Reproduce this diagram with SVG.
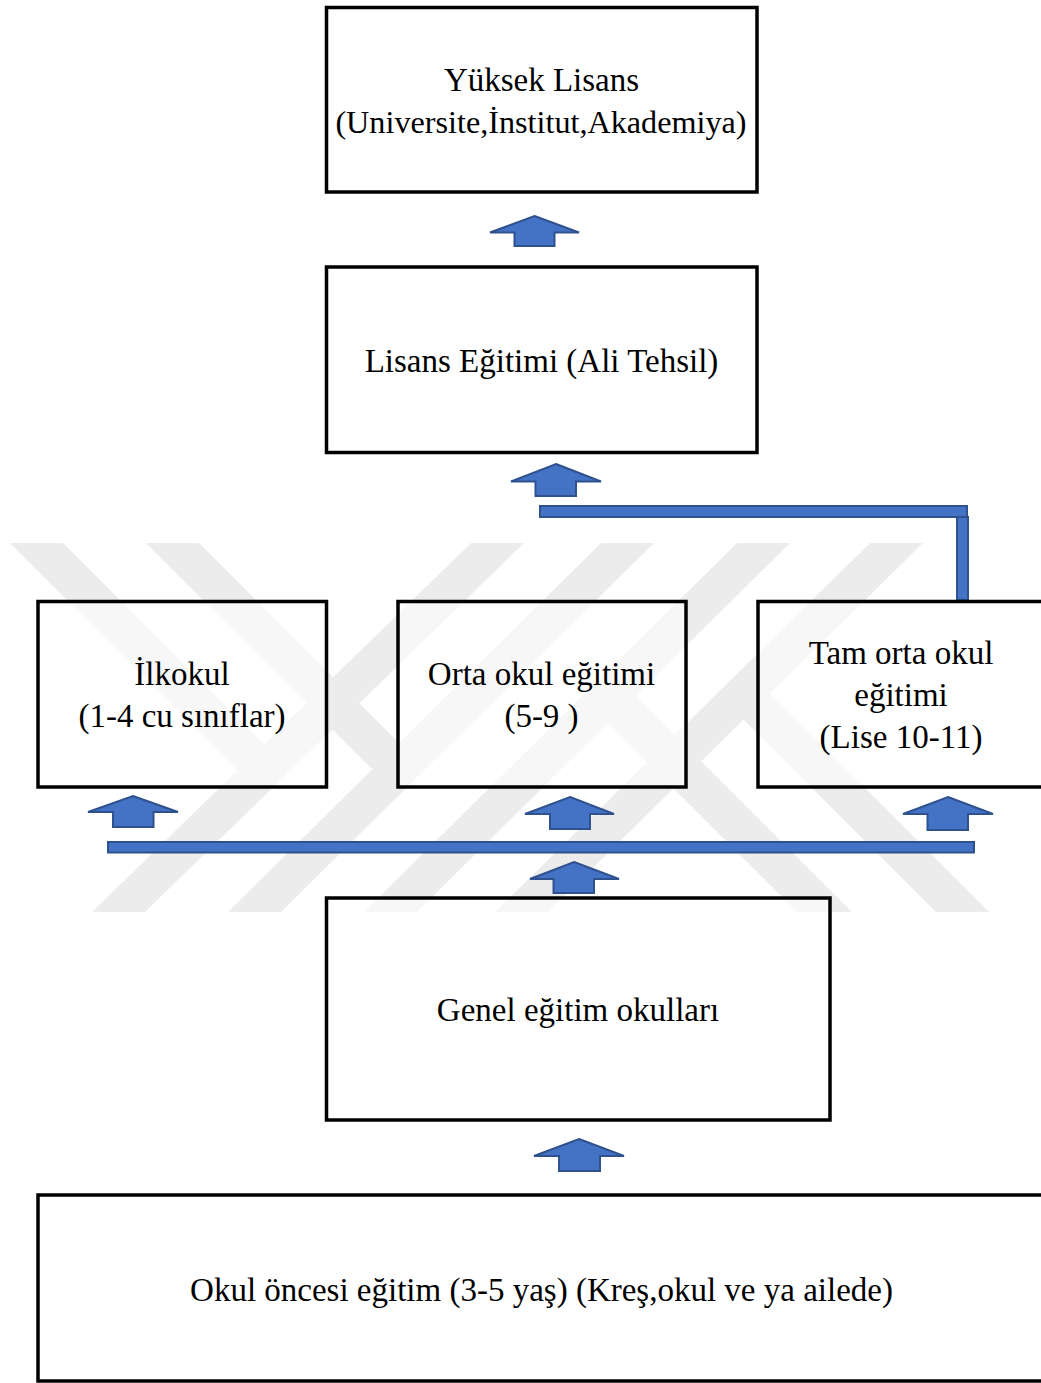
<svg xmlns="http://www.w3.org/2000/svg" width="1041" height="1383" viewBox="0 0 1041 1383">
<defs>
<style>
.wm{fill:#ececec;stroke:none}
.box{fill:#ffffff;fill-opacity:0.6;stroke:#000000;stroke-width:3.5}
.lbl{font-family:"Liberation Serif","Times New Roman",serif;font-size:33px;fill:#000000;text-anchor:middle}
.sm{font-size:32.2px}
.blk{fill:#4472C4;stroke:#2F528F;stroke-width:2;stroke-linejoin:miter}
</style>
</defs>
<rect x="0" y="0" width="1041" height="1383" fill="#ffffff"/>
<g id="watermark">
<polygon class="wm" points="471,543 524,543 145,912 92,912"/>
<polygon class="wm" points="601,543 654,543 281,912 228,912"/>
<polygon class="wm" points="737,543 790,543 417,912 364,912"/>
<polygon class="wm" points="870,543 923,543 548,912 495,912"/>
<polygon class="wm" points="10,543 63,543 291,771 238,771"/>
<polygon class="wm" points="146,543 199,543 424,768 371,768"/>
<polygon class="wm" points="582,697 636,696 852,912 797,912"/>
<polygon class="wm" points="717,693 770,693 989,912 936,912"/>
</g>
<g id="connectors">
<polygon class="blk" points="534.5,216 579,232.5 554.5,232.5 554.5,246 514.5,246 514.5,232.5 490,232.5"/>
<polygon class="blk" points="556,464 601,481.5 576,481.5 576,496 535.5,496 535.5,481.5 511,481.5"/>
<rect class="blk" x="540" y="506" width="427" height="11"/>
<rect class="blk" x="957" y="517" width="11" height="83"/>
<polygon class="blk" points="133,796 178,812 153.5,812 153.5,827 113,827 113,812 88,812"/>
<polygon class="blk" points="570,797 614,814 590,814 590,829 550,829 550,814 525,814"/>
<polygon class="blk" points="948,797 993,814 968,814 968,830 927.5,830 927.5,814 903,814"/>
<rect class="blk" x="108" y="842" width="866" height="10.5"/>
<polygon class="blk" points="574,862 619,879 594,879 594,893 553.5,893 553.5,879 530,879"/>
<polygon class="blk" points="579,1139 624,1156 600,1156 600,1171 559,1171 559,1156 534,1156"/>
</g>
<g id="node-yuksek-lisans">
<rect class="box" x="326.5" y="7.5" width="430.5" height="184.5"/>
<text class="lbl" x="541.5" y="91">Yüksek Lisans</text>
<text class="lbl sm" x="541" y="133">(Universite,İnstitut,Akademiya)</text>
</g>
<g id="node-lisans">
<rect class="box" x="326.5" y="267" width="430.5" height="185.5"/>
<text class="lbl" x="541.5" y="372">Lisans Eğitimi (Ali Tehsil)</text>
</g>
<g id="node-ilkokul">
<rect class="box" x="38" y="601.5" width="288.5" height="185.5"/>
<text class="lbl" x="182" y="685">İlkokul</text>
<text class="lbl" x="182" y="727">(1-4 cu sınıflar)</text>
</g>
<g id="node-orta">
<rect class="box" x="398" y="601.5" width="288" height="185.5"/>
<text class="lbl" x="541.5" y="685">Orta okul eğitimi</text>
<text class="lbl" x="541.5" y="727">(5-9 )</text>
</g>
<g id="node-tam-orta">
<rect class="box" x="758" y="601.5" width="290" height="185.5"/>
<text class="lbl" x="901" y="664">Tam orta okul</text>
<text class="lbl" x="901" y="706">eğitimi</text>
<text class="lbl" x="901" y="748">(Lise 10-11)</text>
</g>
<g id="node-genel">
<rect class="box" x="326.5" y="898" width="503.5" height="222"/>
<text class="lbl" x="578" y="1021">Genel eğitim okulları</text>
</g>
<g id="node-okul-oncesi">
<rect class="box" x="38" y="1195" width="1010" height="186"/>
<text class="lbl" x="541.5" y="1301">Okul öncesi eğitim (3-5 yaş) (Kreş,okul ve ya ailede)</text>
</g>
</svg>
